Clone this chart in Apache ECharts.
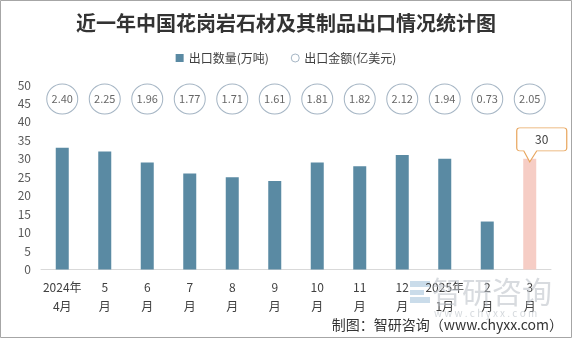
<!DOCTYPE html>
<html>
<head>
<meta charset="utf-8">
<script src="https://cdn.jsdelivr.net/npm/echarts@6/dist/echarts.min.js"></script>
<style>
html,body{margin:0;padding:0;background:#fff;}
#c{width:572px;height:338px;}
</style>
</head>
<body>
<div id="c"></div>
<script>
const categories = ['2024年\n4月','5\n月','6\n月','7\n月','8\n月','9\n月','10\n月','11\n月','12\n月','2025年\n1月','2\n月','3\n月'];
const quantity = [33, 32, 29, 26, 25, 24, 29, 28, 31, 30, 13, 30];
const amount = [2.40, 2.25, 1.96, 1.77, 1.71, 1.61, 1.81, 1.82, 2.12, 1.94, 0.73, 2.05];
const yTicks = {min: 0, max: 50, interval: 5};
const bubbleRow = 46.2; // level of the amount bubbles on the value axis

const FONT = '"Noto Sans CJK SC", "Noto Sans", sans-serif';
const chart = echarts.init(document.getElementById('c'), null, {renderer: 'canvas'});

const last = quantity.length - 1;
const barData = quantity.map((v, i) => i === last
  ? {value: v, itemStyle: {color: '#f6cdc5'}}
  : v);

const callout = 'path://M3,0 L47,0 Q50,0 50,3 L50,20 Q50,23 47,23 L20,23 L13,34 L7,23 L3,23 Q0,23 0,20 L0,3 Q0,0 3,0 Z';

chart.setOption({
  animation: false,
  backgroundColor: '#fff',
  textStyle: {fontFamily: FONT},
  title: {
    text: '近一年中国花岗岩石材及其制品出口情况统计图',
    left: 'center', top: 8,
    textStyle: {fontSize: 20, fontWeight: 'bold', color: '#333', fontFamily: FONT}
  },
  legend: {
    top: 47, left: 'center', itemGap: 22, itemWidth: 8, itemHeight: 8,
    textStyle: {fontSize: 12, color: '#404040', fontFamily: FONT},
    data: [
      {name: '出口数量(万吨)', icon: 'rect', itemStyle: {color: '#5a8aa3'}},
      {name: '出口金额(亿美元)', icon: 'circle', itemStyle: {color: '#fff', borderColor: '#8ea3b5', borderWidth: 1}}
    ]
  },
  grid: {left: 41, right: 21, top: 85, bottom: 68.5},
  xAxis: {
    type: 'category', data: categories,
    axisLine: {lineStyle: {color: '#d9d9d9', width: 1}},
    axisTick: {show: false},
    axisLabel: {color: '#404040', fontSize: 12, lineHeight: 19, margin: 8, interval: 0, fontFamily: FONT}
  },
  yAxis: {
    type: 'value', min: yTicks.min, max: yTicks.max, interval: yTicks.interval,
    axisLine: {show: false}, axisTick: {show: false},
    splitLine: {show: false},
    axisLabel: {color: '#595959', fontSize: 12, margin: 10, fontFamily: FONT}
  },
  series: [
    {
      name: '出口数量(万吨)', type: 'bar', data: barData, barWidth: 13,
      itemStyle: {color: '#5a8aa3'},
      markPoint: {
        symbol: callout, symbolSize: [50, 34], symbolOffset: [12, -14],
        itemStyle: {color: '#fff', borderColor: '#e8a55c', borderWidth: 1},
        label: {show: true, position: 'inside', offset: [0, -5.5], color: '#404040', fontSize: 12, fontFamily: FONT,
                formatter: p => String(p.value)},
        data: [{coord: [last, quantity[last]], value: quantity[last]}]
      }
    },
    {
      name: '出口金额(亿美元)', type: 'scatter',
      data: amount.map((a, i) => [i, bubbleRow, a]),
      symbol: 'circle', symbolSize: [31, 30],
      itemStyle: {color: '#fff', borderColor: '#8ea3b5', borderWidth: 1},
      label: {show: true, position: 'inside', color: '#404040', fontSize: 11, fontFamily: FONT,
              formatter: p => p.data[2].toFixed(2)},
      z: 3
    }
  ],
  graphic: [
    {type: 'rect', shape: {x: 0.5, y: 0.5, width: 571, height: 337}, style: {fill: 'none', stroke: '#a6a6a6', lineWidth: 1}, z: 100, silent: true},
    {type: 'group', left: 410, top: 281, z: 50, silent: true, children: [
      {type: 'rect', shape: {x: 0, y: 0, width: 20, height: 6}, style: {fill: '#9fbfd8', opacity: 0.55}},
      {type: 'rect', shape: {x: 0, y: 9, width: 14, height: 5}, style: {fill: '#9fbfd8', opacity: 0.55}},
      {type: 'rect', shape: {x: 0, y: 16, width: 20, height: 6}, style: {fill: '#9fbfd8', opacity: 0.55}}
    ]},
    {type: 'text', left: 432, top: 277, z: 50, silent: true,
     style: {text: '智研咨询', fontSize: 30, fill: '#b8bec4', opacity: 0.55, fontFamily: FONT}},
    {type: 'text', left: 434, top: 308, z: 50, silent: true,
     style: {text: 'w w w . c h y x x . c o m', fontSize: 10, fill: '#b8bec4', opacity: 0.6, fontFamily: FONT}},
    {type: 'text', right: 9, top: 318, z: 60, silent: true,
     style: {text: '制图：智研咨询（www.chyxx.com）', fontSize: 14, fill: '#333', fontFamily: FONT}}
  ]
});
</script>
</body>
</html>
